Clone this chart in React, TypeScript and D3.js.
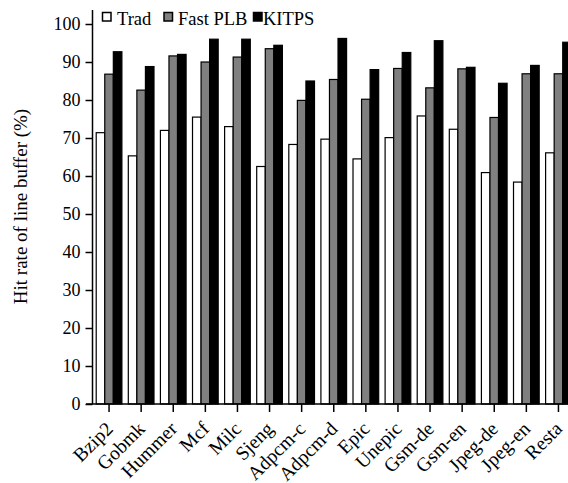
import * as d3 from "d3";
import { useEffect, useRef } from "react";

const categories = [
  "Bzip2", "Gobmk", "Hummer", "Mcf", "Milc", "Sjeng", "Adpcm-c", "Adpcm-d",
  "Epic", "Unepic", "Gsm-de", "Gsm-en", "Jpeg-de", "Jpeg-en", "Resta",
];
const seriesNames = ["Trad", "Fast PLB", "KITPS"];
const trad = [71.4, 65.3, 72.0, 75.5, 73.0, 62.5, 68.3, 69.7, 64.5, 70.1, 75.8, 72.3, 60.9, 58.4, 66.1];
const fastPLB = [86.8, 82.6, 91.6, 90.0, 91.3, 93.5, 79.9, 85.4, 80.2, 88.3, 83.2, 88.2, 75.4, 86.9, 86.9];
const kitps = [92.7, 88.8, 92.0, 96.0, 96.0, 94.4, 85.0, 96.2, 88.0, 92.5, 95.6, 88.6, 84.4, 89.1, 95.2];
const yTicks = [0, 10, 20, 30, 40, 50, 60, 70, 80, 90, 100];
const fills = ["#ffffff", "#808080", "#000000"];

const W = 568;
const H = 483;
const font = "'Liberation Serif', 'Times New Roman', serif";

export default function App() {
  const ref = useRef<SVGSVGElement>(null);

  useEffect(() => {
    const svg = d3.select(ref.current);
    svg.selectAll("*").remove();

    const values = [trad, fastPLB, kitps];
    const x = d3.scaleBand().domain(categories).range([93, 574.5]).paddingInner(0.2).paddingOuter(0.1);
    const xs = d3.scaleBand().domain(seriesNames).range([0, x.bandwidth()]);
    const y = d3.scaleLinear().domain([0, 100]).range([404, 24]);

    // bars
    const g = svg.append("g");
    categories.forEach((c, i) => {
      seriesNames.forEach((s, j) => {
        const v = values[j][i];
        g.append("rect")
          .attr("x", x(c)! + xs(s)!)
          .attr("y", y(v))
          .attr("width", xs.bandwidth())
          .attr("height", y(0) - y(v))
          .attr("fill", fills[j])
          .attr("stroke", "#000")
          .attr("stroke-width", 1.2);
      });
    });

    // y axis
    const yAxis = svg.append("g")
      .attr("transform", "translate(92.5,0)")
      .call(d3.axisLeft(y).tickValues(yTicks).tickSize(7).tickPadding(5).tickSizeOuter(0));
    yAxis.select(".domain").attr("d", "M0,404V10").attr("stroke-width", 1.5);
    yAxis.selectAll(".tick line").attr("stroke-width", 1.5);
    yAxis.selectAll("text").attr("font-family", font).attr("font-size", 18).attr("fill", "#000");

    // x axis
    const xAxis = svg.append("g")
      .attr("transform", "translate(0,404)")
      .call(d3.axisBottom(x).tickSize(8).tickSizeOuter(0));
    xAxis.select(".domain").attr("d", "M86,0H568").attr("stroke-width", 1.5);
    xAxis.selectAll(".tick line").attr("stroke-width", 1.5);
    xAxis.selectAll("text")
      .attr("font-family", font)
      .attr("font-size", 19.5)
      .attr("fill", "#000")
      .attr("text-anchor", "end")
      .attr("x", 0)
      .attr("y", 0)
      .attr("dy", 0)
      .attr("transform", "translate(5,26) rotate(-45)");

    // y label
    svg.append("text")
      .attr("transform", "translate(27,206.5) rotate(-90)")
      .attr("text-anchor", "middle")
      .attr("font-family", font)
      .attr("font-size", 19)
      .text("Hit rate of line buffer (%)");

    // legend
    const legendX = [102.5, 164, 253.5];
    const textX = [117, 178, 263];
    seriesNames.forEach((s, j) => {
      svg.append("rect")
        .attr("x", legendX[j])
        .attr("y", 12.5)
        .attr("width", 8.5)
        .attr("height", 8.5)
        .attr("fill", fills[j])
        .attr("stroke", "#000")
        .attr("stroke-width", 1.5);
      svg.append("text")
        .attr("x", textX[j])
        .attr("y", 24.5)
        .attr("font-family", font)
        .attr("font-size", 18.5)
        .text(s);
    });
  }, []);

  return (
    <svg
      ref={ref}
      width={W}
      height={H}
      style={{ position: "absolute", left: 0, top: 0, background: "#fff" }}
    />
  );
}
